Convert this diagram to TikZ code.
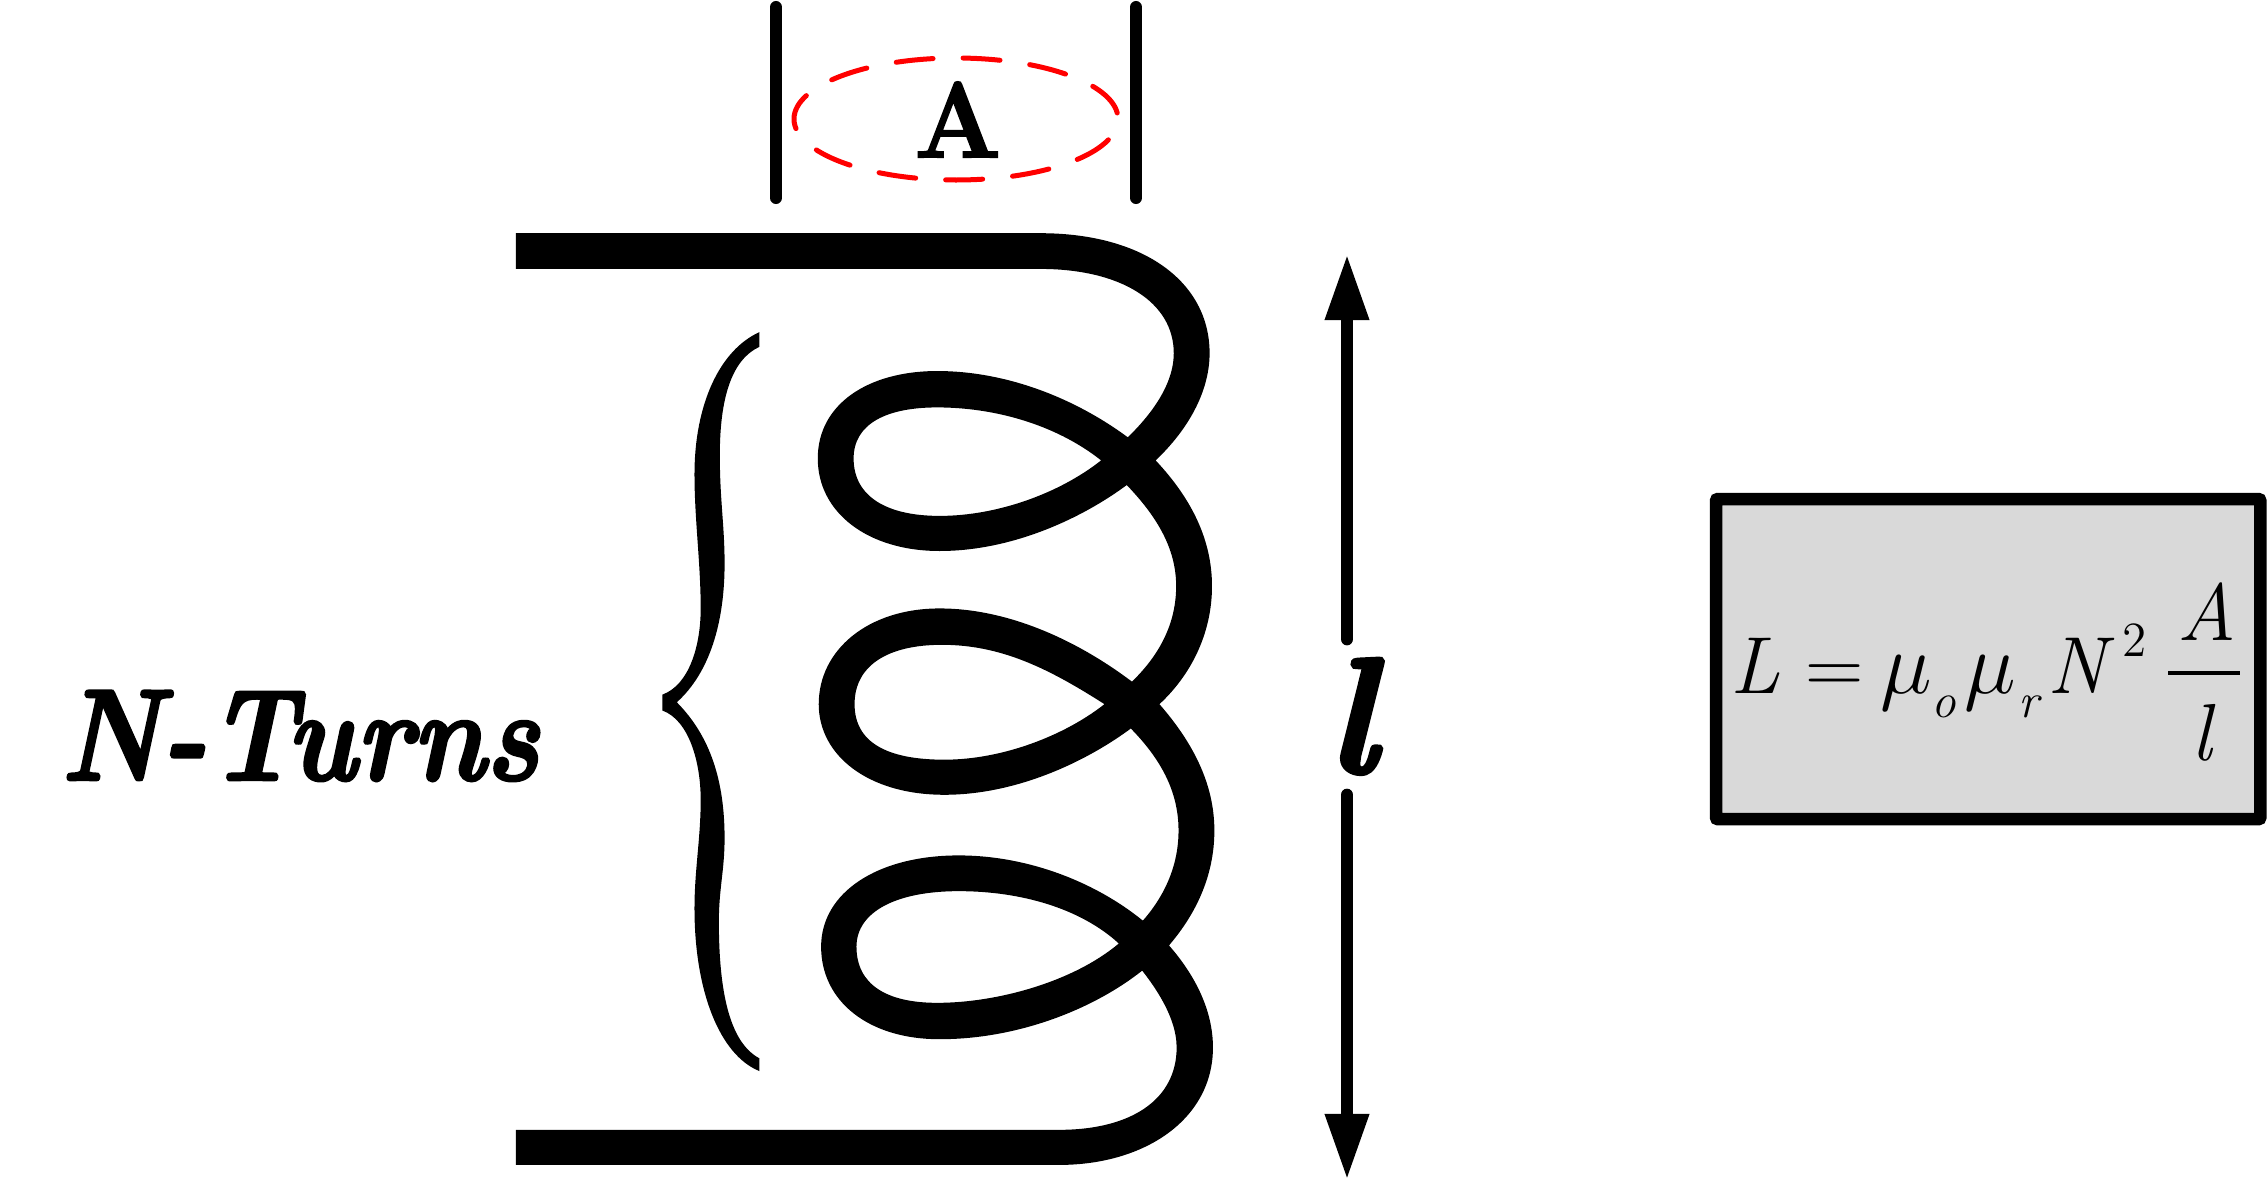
\documentclass[tikz,border=0pt]{standalone}
\usepackage{fontspec}
\newfontfamily\heavyfont{Latin Modern Roman}[FakeBold=2.2]
\usetikzlibrary{arrows.meta}
\tikzset{
  plate/.style={line width=.12cm,line cap=round},
  arealoop/.style={red,line width=.05cm,line cap=round,dash pattern=on .37cm off .30cm,dash phase=.435cm},
  lenarrow/.style={line width=.127cm,line cap=round,-{Triangle[length=.66cm,width=.41cm]}},
  lbl/.style={inner sep=0,anchor=base west},
  eqbig/.style={lbl,font=\fontsize{23}{23}\selectfont\itshape},
  eqsmall/.style={lbl,font=\fontsize{14}{14}\selectfont\itshape}
}
\begin{document}
\begin{tikzpicture}[x=.01cm,y=-.01cm]
  \useasboundingbox (0,0) rectangle (2267,1200);

  % area
  \coordinate (p1a) at (776,7);
  \coordinate (p1b) at (776,198);
  \coordinate (p2a) at (1136,7);
  \coordinate (p2b) at (1136,198);
  \draw[plate] (p1a) -- (p1b);
  \draw[plate] (p2a) -- (p2b);
  \draw[arealoop] (956,119) ellipse (162 and 61);
  \node[lbl,font=\fontsize{30.4}{30.4}\selectfont\heavyfont\bfseries,xscale=.95] (areaA) at (914,157) {A};

  % coil and brace, numbers read from the enlarged crop
  \begin{scope}[shift={(500,200)},x=.004783cm,y=-.006378cm]
    \fill (33,52) -- (1130,52)
      .. controls (1350,52) and (1485,130) .. (1485,240)
      .. controls (1485,300) and (1440,360) .. (1372,408)
      .. controls (1290,470) and (1110,550) .. (920,550)
      .. controls (770,550) and (665,490) .. (665,405)
      .. controls (665,320) and (770,268) .. (915,268)
      .. controls (1090,268) and (1260,330) .. (1372,408)
      .. controls (1450,470) and (1490,535) .. (1490,605)
      .. controls (1490,680) and (1445,745) .. (1380,790)
      .. controls (1300,850) and (1120,932) .. (930,932)
      .. controls (770,932) and (667,870) .. (667,790)
      .. controls (667,705) and (770,640) .. (920,640)
      .. controls (1090,640) and (1260,710) .. (1380,790)
      .. controls (1450,850) and (1495,915) .. (1495,988)
      .. controls (1495,1060) and (1455,1120) .. (1400,1168)
      .. controls (1310,1245) and (1120,1315) .. (920,1315)
      .. controls (770,1315) and (672,1255) .. (672,1170)
      .. controls (672,1085) and (790,1027) .. (960,1027)
      .. controls (1130,1027) and (1300,1085) .. (1400,1168)
      .. controls (1455,1215) and (1492,1270) .. (1492,1328)
      .. controls (1492,1440) and (1350,1512) .. (1170,1512)
      -- (33,1512) -- (33,1457) -- (1170,1457)
      .. controls (1320,1457) and (1416,1410) .. (1416,1328)
      .. controls (1416,1280) and (1370,1225) .. (1295,1165)
      .. controls (1215,1110) and (1090,1083) .. (960,1083)
      .. controls (830,1083) and (746,1115) .. (746,1170)
      .. controls (746,1230) and (810,1258) .. (915,1258)
      .. controls (1040,1258) and (1200,1225) .. (1295,1165)
      .. controls (1370,1120) and (1420,1060) .. (1420,988)
      .. controls (1420,910) and (1360,850) .. (1265,790)
      .. controls (1150,735) and (1050,697) .. (925,697)
      .. controls (810,697) and (742,730) .. (742,790)
      .. controls (742,850) and (810,877) .. (930,877)
      .. controls (1050,877) and (1180,840) .. (1265,790)
      .. controls (1350,745) and (1415,685) .. (1415,605)
      .. controls (1415,530) and (1350,470) .. (1258,408)
      .. controls (1160,350) and (1030,325) .. (915,325)
      .. controls (810,325) and (740,350) .. (740,405)
      .. controls (740,465) and (810,495) .. (920,495)
      .. controls (1040,495) and (1170,460) .. (1258,408)
      .. controls (1340,360) and (1410,300) .. (1410,240)
      .. controls (1410,160) and (1300,108) .. (1130,108)
      -- (33,108) -- cycle;
    \fill (543,207) .. controls (460,235) and (407,320) .. (407,430)
      .. controls (407,500) and (420,570) .. (420,640)
      .. controls (420,700) and (395,760) .. (340,775) -- (340,800)
      .. controls (395,815) and (420,880) .. (420,940)
      .. controls (420,1000) and (407,1050) .. (407,1110)
      .. controls (407,1240) and (460,1340) .. (543,1365) -- (543,1345)
      .. controls (480,1320) and (458,1240) .. (458,1130)
      .. controls (458,1080) and (470,1050) .. (470,1000)
      .. controls (470,910) and (440,840) .. (370,787)
      .. controls (440,740) and (470,660) .. (470,570)
      .. controls (470,510) and (460,470) .. (460,400)
      .. controls (460,310) and (485,250) .. (543,230) -- cycle;
  \end{scope}

  \node[lbl,font=\fontsize{37}{37}\selectfont\heavyfont\bfseries\itshape,xscale=.86] (nturns) at (60,780) {N-Turns};

  % length
  \node[lbl,font=\fontsize{47}{47}\selectfont\heavyfont\bfseries\itshape] (lenl) at (1326,773) {l};
  \coordinate (lenup) at (1347,645);
  \coordinate (lendown) at (1347,789);
  \coordinate (lentop) at (1347,254);
  \coordinate (lenbot) at (1347,1180);
  \draw[lenarrow] (lenup) ++(0,-6) -- (lentop);
  \draw[lenarrow] (lendown) ++(0,6) -- (lenbot);

  % formula
  \node[draw,fill=black!15,line width=.125cm,rounded corners=.02cm,minimum width=5.44cm,minimum height=3.2cm,anchor=north west,inner sep=0,outer sep=0] (eqbox) at (1716,499) {};
  \node[eqbig] (eqL) at (1730,693) {L};
  \node[eqbig,font=\fontsize{23}{23}\selectfont] (eqeq) at (1805,693) {=};
  \node[eqbig] (eqmua) at (1880,693) {$\mu$};
  \node[eqsmall] (eqo) at (1931,717) {o};
  \node[eqbig] (eqmub) at (1964,693) {$\mu$};
  \node[eqsmall] (eqr) at (2018,717) {r};
  \node[eqbig] (eqN) at (2047,693) {N};
  \node[eqsmall,font=\fontsize{14}{14}\selectfont] (eqtwo) at (2122,656) {2};
  \node[eqbig] (eqA) at (2177,640) {A};
  \node[eqbig] (eqlen) at (2191,760) {l};
  \coordinate (bara) at (2168,673);
  \coordinate (barb) at (2240,673);
  \draw[line width=.04cm] (bara) -- (barb);
\end{tikzpicture}
\end{document}
